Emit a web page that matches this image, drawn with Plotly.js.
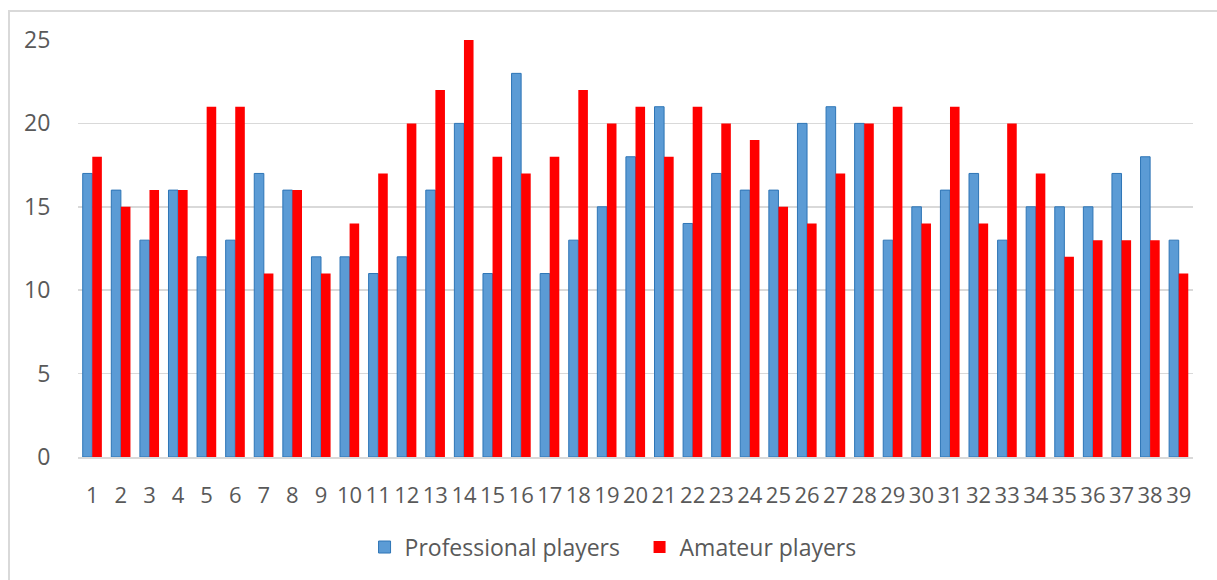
<!DOCTYPE html>
<html>
<head>
<meta charset="utf-8">
<script src="https://cdn.plot.ly/plotly-3.0.1.min.js"></script>
<style>
  body { margin: 0; padding: 0; background: #fff; }
  #frame { position: absolute; left: 8px; top: 10px; width: 1217px; height: 580px; border-left: 2px solid #d9d9d9; border-top: 2px solid #d9d9d9; }
  #chart { position: absolute; left: 0; top: 0; width: 1217px; height: 580px; }
</style>
</head>
<body>
<div id="frame"></div>
<div id="chart"></div>
<script>
const categories = ["1","2","3","4","5","6","7","8","9","10","11","12","13","14","15","16","17","18","19","20","21","22","23","24","25","26","27","28","29","30","31","32","33","34","35","36","37","38","39"];
const professional = [17,16,13,16,12,13,17,16,12,12,11,12,16,20,11,23,11,13,15,18,21,14,17,16,16,20,21,20,13,15,16,17,13,15,15,15,17,18,13];
const amateur = [18,15,16,16,21,21,11,16,11,14,17,20,22,25,18,17,18,22,20,21,18,21,20,19,15,14,17,20,21,14,21,14,20,17,12,13,13,13,11];
const yTicks = [0,5,10,15,20,25];

const traces = [
  { type: 'bar', name: 'Professional players', x: categories, y: professional,
    marker: { color: '#5b9bd5', line: { color: '#2e75b6', width: 1 } } },
  { type: 'bar', name: 'Amateur players', x: categories, y: amateur,
    marker: { color: '#ff0000', line: { color: '#ff0000', width: 0 } } }
];

const layout = {
  width: 1217, height: 580,
  margin: { l: 78, r: 24, t: 40, b: 123 },
  paper_bgcolor: 'rgba(0,0,0,0)', plot_bgcolor: 'rgba(0,0,0,0)',
  barmode: 'group', bargap: 0.33, bargroupgap: 0,
  font: { family: 'Open Sans, Liberation Sans, sans-serif', color: '#595959', size: 22 },
  xaxis: { type: 'category', showgrid: false, showline: true, linecolor: '#d9d9d9', linewidth: 1.5,
           ticks: 'outside', ticklen: 18, tickcolor: 'rgba(0,0,0,0)',
           tickfont: { size: 22, color: '#595959' } },
  yaxis: { range: [0, 25], tickvals: yTicks, showgrid: true, gridcolor: '#d9d9d9', gridwidth: 1.5,
           zeroline: false, showline: false, ticks: 'outside', ticklen: 22, tickcolor: 'rgba(0,0,0,0)',
           tickfont: { size: 23, color: '#595959' } },
  showlegend: true,
  legend: { orientation: 'h', x: 0.257, xanchor: 'left', y: -0.216, yanchor: 'middle',
            font: { size: 23, color: '#595959' }, itemwidth: 30, entrywidth: 230, entrywidthmode: 'pixels',
            traceorder: 'normal' }
};

Plotly.newPlot('chart', traces, layout, { displayModeBar: false, staticPlot: true });
</script>
</body>
</html>
